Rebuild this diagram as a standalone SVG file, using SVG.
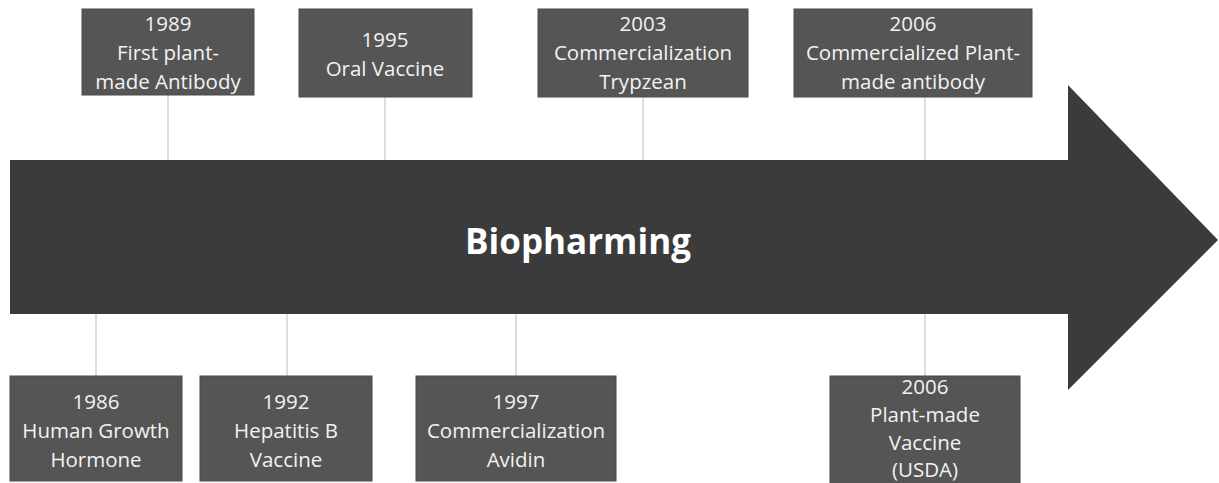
<svg xmlns="http://www.w3.org/2000/svg" width="1219" height="483" viewBox="0 0 1219 483">
<style>
.box{fill:#555555;stroke:#4a4a4a;stroke-width:1}
.t{font-family:"Open Sans","Liberation Sans",sans-serif;font-size:20.5px;fill:#f2f2f2;text-anchor:middle}
.c{stroke:#cfd3d6;stroke-width:1.5;fill:none}
</style>
<rect width="1219" height="483" fill="#ffffff"/>
<g id="connectors">
<line class="c" x1="168" y1="95" x2="168" y2="160"/>
<line class="c" x1="385" y1="97" x2="385" y2="160"/>
<line class="c" x1="643" y1="97" x2="643" y2="160"/>
<line class="c" x1="925" y1="97" x2="925" y2="160"/>
<line class="c" x1="96" y1="314" x2="96" y2="376"/>
<line class="c" x1="287" y1="314" x2="287" y2="376"/>
<line class="c" x1="516" y1="314" x2="516" y2="376"/>
<line class="c" x1="925" y1="314" x2="925" y2="376"/>
</g>
<g id="arrow">
<polygon points="10,160 1068,160 1068,85 1218,240 1068,390 1068,314 10,314" fill="#3b3b3b"/>
<text x="578" y="254" font-family="'Open Sans','Liberation Sans',sans-serif" font-size="35" font-weight="bold" fill="#ffffff" text-anchor="middle">Biopharming</text>
</g>
<g id="n1989">
<rect class="box" x="82" y="9" width="172" height="86"/>
<text class="t" x="168" y="31">1989</text>
<text class="t" x="168" y="60">First plant-</text>
<text class="t" x="168" y="89">made Antibody</text>
</g>
<g id="n1995">
<rect class="box" x="299" y="9" width="173" height="88"/>
<text class="t" x="385" y="47">1995</text>
<text class="t" x="385" y="76">Oral Vaccine</text>
</g>
<g id="n2003">
<rect class="box" x="538" y="9" width="210" height="88"/>
<text class="t" x="643" y="31">2003</text>
<text class="t" x="643" y="60">Commercialization</text>
<text class="t" x="643" y="89">Trypzean</text>
</g>
<g id="n2006a">
<rect class="box" x="794" y="9" width="238" height="88"/>
<text class="t" x="913" y="31">2006</text>
<text class="t" x="913" y="60">Commercialized Plant-</text>
<text class="t" x="913" y="89">made antibody</text>
</g>
<g id="n1986">
<rect class="box" x="10" y="376" width="172" height="105"/>
<text class="t" x="96" y="409">1986</text>
<text class="t" x="96" y="438">Human Growth</text>
<text class="t" x="96" y="467">Hormone</text>
</g>
<g id="n1992">
<rect class="box" x="200" y="376" width="172" height="105"/>
<text class="t" x="286" y="409">1992</text>
<text class="t" x="286" y="438">Hepatitis B</text>
<text class="t" x="286" y="467">Vaccine</text>
</g>
<g id="n1997">
<rect class="box" x="416" y="376" width="200" height="105"/>
<text class="t" x="516" y="409">1997</text>
<text class="t" x="516" y="438">Commercialization</text>
<text class="t" x="516" y="467">Avidin</text>
</g>
<g id="n2006b">
<rect class="box" x="830" y="376" width="190" height="110"/>
<text class="t" x="925" y="394">2006</text>
<text class="t" x="925" y="422">Plant-made</text>
<text class="t" x="925" y="450">Vaccine</text>
<text class="t" x="925" y="477">(USDA)</text>
</g>
</svg>
